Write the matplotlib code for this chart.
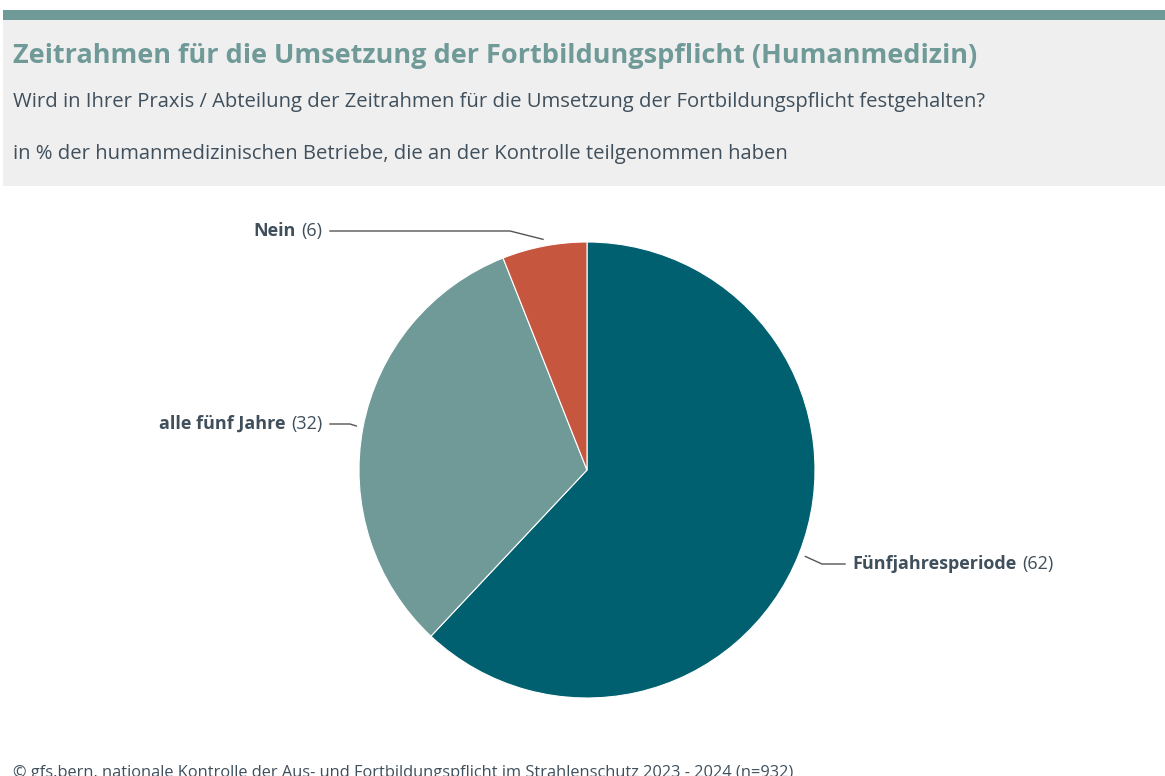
import matplotlib.pyplot as plt
from matplotlib.offsetbox import TextArea, HPacker, AnnotationBbox
import numpy as np

# Daten
labels = ["Fünfjahresperiode", "alle fünf Jahre", "Nein"]
values = [62, 32, 6]
colors = ["#01606f", "#6f9a98", "#c7563e"]

title = "Zeitrahmen für die Umsetzung der Fortbildungspflicht (Humanmedizin)"
subtitle = "Wird in Ihrer Praxis / Abteilung der Zeitrahmen für die Umsetzung der Fortbildungspflicht festgehalten?"
unit = "in % der humanmedizinischen Betriebe, die an der Kontrolle teilgenommen haben"
source = "© gfs.bern, nationale Kontrolle der Aus- und Fortbildungspflicht im Strahlenschutz 2023 - 2024 (n=932)"

FONT = "Open Sans"
W, H = 1165, 776
txt_color = "#3f4f5c"

fig = plt.figure(figsize=(W / 100, H / 100), dpi=100)
ax = fig.add_axes([0, 0, 1, 1])

# Kopfbereich (Pixelkoordinaten, y von oben)
def Y(y):
    return H - y

ax.add_patch(plt.Rectangle((3, Y(186)), W - 3, 166, color="#efefef", lw=0, zorder=0))
ax.add_patch(plt.Rectangle((3, Y(20)), W - 3, 10, color="#6f9a98", lw=0, zorder=0))

ax.text(13, Y(63), title, fontsize=19.55, fontweight="bold", color="#6f9a98",
        family=FONT, va="baseline", ha="left")
ax.text(13, Y(107), subtitle, fontsize=14.55, color=txt_color, family=FONT, va="baseline")
ax.text(13, Y(159), unit, fontsize=14.55, color=txt_color, family=FONT, va="baseline")
ax.text(13, Y(777), source, fontsize=11.8, color=txt_color, family=FONT, va="baseline")

# Torte
cx, cy, r = 587, Y(470), 228
wedges, _ = ax.pie(values, colors=colors, startangle=90, counterclock=False,
                   center=(cx, cy), radius=r,
                   wedgeprops=dict(edgecolor="white", linewidth=0.8))

# Beschriftungen: Knickpunkt, Linienende, Textposition, Ausrichtung
label_layout = [
    ((822, 564), (845, 564), (852, 564), "left"),
    ((350, 424), (330, 424), (322, 424), "right"),
    ((510, 231), (330, 231), (322, 231), "right"),
]

for w, lab, val, (elbow, end, tpos, side) in zip(wedges, labels, values, label_layout):
    ang = np.deg2rad((w.theta1 + w.theta2) / 2)
    ax_ = cx + r * 1.03 * np.cos(ang)
    ay_ = cy + r * 1.03 * np.sin(ang)
    xs = [ax_, elbow[0], end[0]]
    ys = [ay_, Y(elbow[1]), Y(end[1])]
    ax.plot(xs, ys, color="#555555", lw=1)

    parts = [TextArea(lab, textprops=dict(fontsize=13, fontweight="bold", color=txt_color, family=FONT)),
             TextArea(f"({val})", textprops=dict(fontsize=13, color=txt_color, family=FONT))]
    box = HPacker(children=parts, align="baseline", pad=0, sep=4)
    ab = AnnotationBbox(box, (tpos[0], Y(tpos[1])), xycoords="data",
                        box_alignment=(0 if side == "left" else 1, 0.5),
                        frameon=False, pad=0)
    ax.add_artist(ab)

ax.set_xlim(0, W)
ax.set_ylim(0, H)
ax.set_aspect("auto")
ax.axis("off")

plt.savefig("out.png", dpi=100)
